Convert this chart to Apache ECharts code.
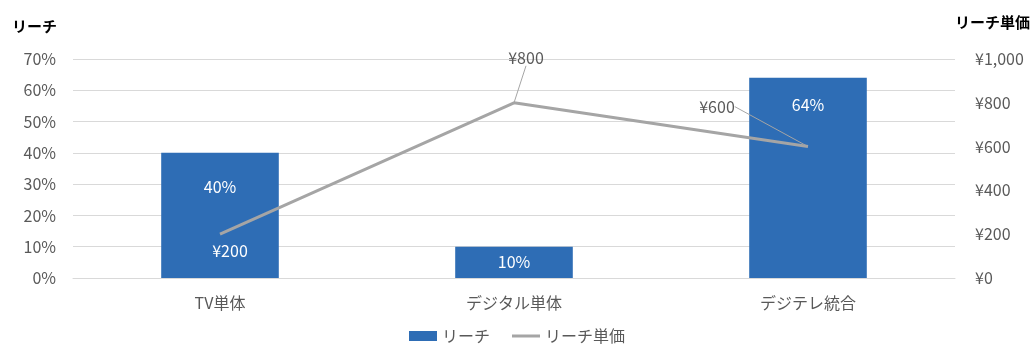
<!DOCTYPE html>
<html><head><meta charset="utf-8">
<script src="https://cdn.jsdelivr.net/npm/echarts@6/dist/echarts.min.js"></script>
<style>html,body{margin:0;padding:0;background:#fff}#c{width:1034px;height:351px}</style>
</head><body><div id="c"></div>
<script>
const categories = ['TV単体', 'デジタル単体', 'デジテレ統合'];
const reach = [40, 10, 64];
const unitPrice = [200, 800, 600];
const leftTicks = [0, 10, 20, 30, 40, 50, 60, 70];
const rightTicks = [0, 200, 400, 600, 800, 1000];

const FONT = '"Noto Sans CJK JP", "Noto Sans", sans-serif';
const GRAY = '#595959';
const barLabelDist = [26, 7, 19];
const lineLabelShift = [[10, 17], [12, -45], [-91, -40]];
const lineLabelColor = ['#fff', GRAY, GRAY];
const lineLabelLeader = [false, true, true];

const chart = echarts.init(document.getElementById('c'));
chart.setOption({
  textStyle: { fontFamily: FONT },
  animation: false,
  grid: { left: 73, right: 79, top: 59, bottom: 73 },
  legend: {
    bottom: 2, left: 'center', itemGap: 22, itemWidth: 28, itemHeight: 10,
    textStyle: { color: GRAY, fontSize: 16, fontFamily: FONT },
    data: [{ name: 'リーチ', icon: 'rect' },
           { name: 'リーチ単価', icon: 'path://M0,0L0,0ZM0,3.5H28V6.5H0ZM0,10L0,10Z' }]
  },
  xAxis: {
    type: 'category', data: categories,
    axisLine: { show: true, lineStyle: { color: '#d9d9d9' } },
    axisTick: { show: false },
    axisLabel: { color: GRAY, fontSize: 16, margin: 17 }
  },
  yAxis: [{
    type: 'value', min: leftTicks[0], max: leftTicks[leftTicks.length - 1], interval: 10,
    name: 'リーチ', nameLocation: 'end', nameGap: 25,
    nameTextStyle: { color: '#000', fontWeight: 'bold', fontSize: 15, align: 'left', padding: [0, 0, 0, -61] },
    axisLabel: { color: GRAY, fontSize: 16, margin: 17, formatter: v => v + '%' },
    splitLine: { lineStyle: { color: '#d9d9d9' } },
    axisLine: { show: false }, axisTick: { show: false }
  }, {
    type: 'value', min: rightTicks[0], max: rightTicks[rightTicks.length - 1], interval: 200,
    name: 'リーチ単価', nameLocation: 'end', nameGap: 29,
    nameTextStyle: { color: '#000', fontWeight: 'bold', fontSize: 15, align: 'left', padding: [0, 0, 0, 0] },
    axisLabel: { color: GRAY, fontSize: 16, margin: 20, formatter: v => '¥' + v.toLocaleString('en-US') },
    splitLine: { show: false },
    axisLine: { show: false }, axisTick: { show: false }
  }],
  series: [{
    name: 'リーチ', type: 'bar', yAxisIndex: 0, barWidth: '40%',
    itemStyle: { color: '#2E6DB5' },
    data: reach.map((v, i) => ({
      value: v,
      label: { show: true, position: 'insideTop', distance: barLabelDist[i], color: '#fff', fontSize: 16, formatter: '{c}%' }
    }))
  }, {
    name: 'リーチ単価', type: 'line', yAxisIndex: 1,
    data: unitPrice.map((v, i) => ({
      value: v,
      label: { color: lineLabelColor[i] },
      labelLine: { show: lineLabelLeader[i] }
    })),
    symbol: 'circle', symbolSize: 0.01, showSymbol: true,
    lineStyle: { color: '#A5A5A5', width: 3 }, itemStyle: { color: '#A5A5A5' },
    label: {
      show: true, position: 'inside', fontSize: 16,
      formatter: p => '¥' + p.value.toLocaleString('en-US')
    },
    labelLine: { show: true, lineStyle: { color: '#A5A5A5', width: 1 } },
    labelLayout: p => ({ dx: lineLabelShift[p.dataIndex][0], dy: lineLabelShift[p.dataIndex][1] })
  }]
});
</script></body></html>
